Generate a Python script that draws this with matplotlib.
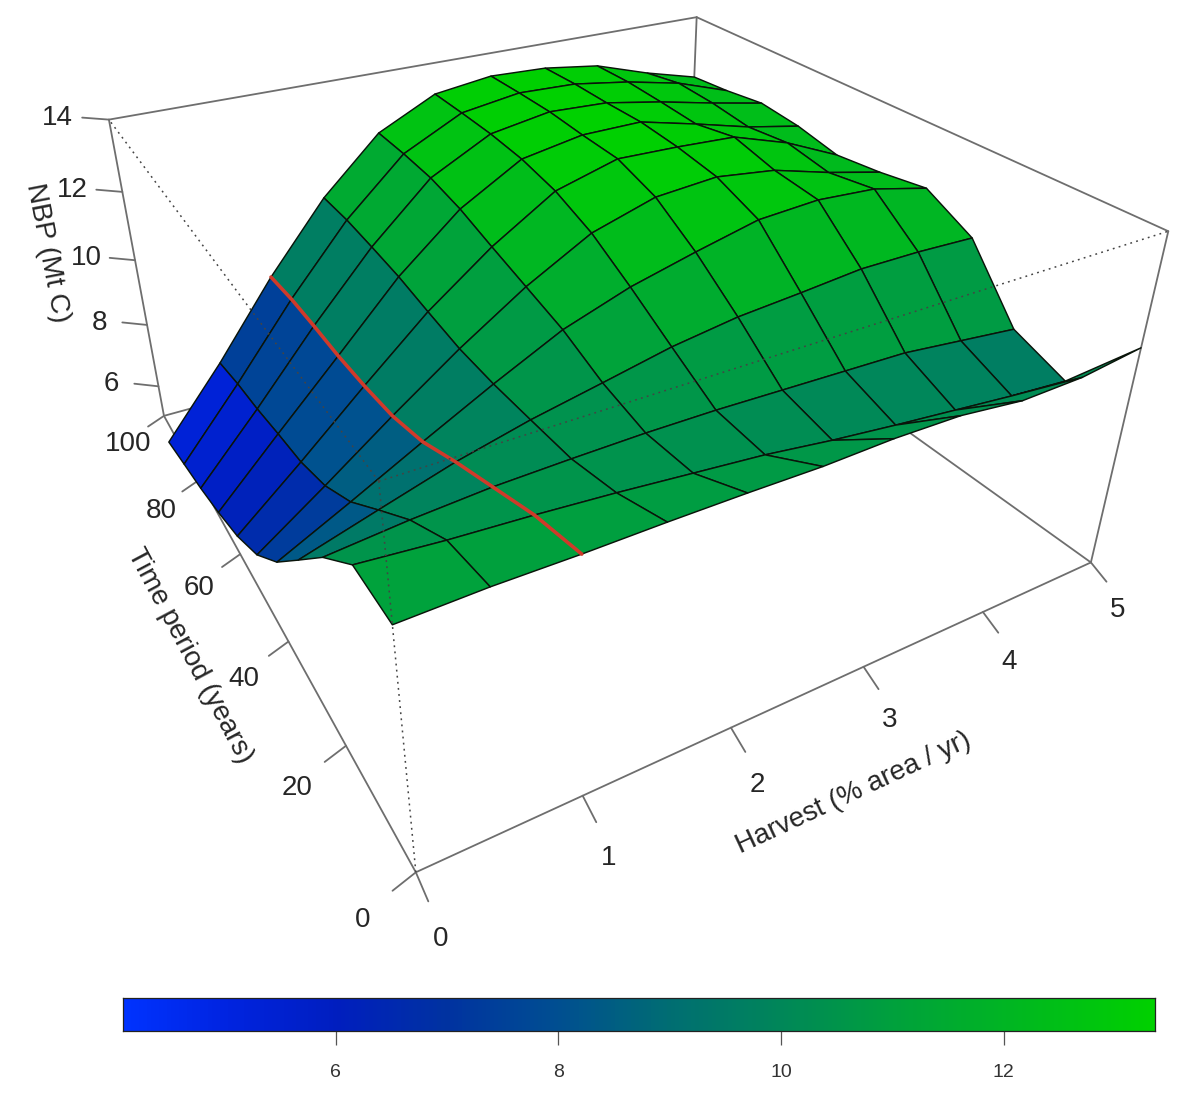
import numpy as np
import matplotlib
matplotlib.use("Agg")
import matplotlib.pyplot as plt
from matplotlib.collections import PolyCollection
from matplotlib.colors import LinearSegmentedColormap, Normalize

plt.rcParams["font.family"] = ["Liberation Sans", "DejaVu Sans"]

harvest = [0, 0.5, 1, 1.5, 2, 2.5, 3, 3.5, 4, 4.5, 5]
time_period = [0, 10, 20, 30, 40, 50, 60, 70, 80, 90, 100]
# one row per harvest level, one value per time period
nbp = [
    [11.09, 11.07, 9.97, 8.63, 7.30, 6.24, 5.56, 5.10, 4.72, 4.41, 4.09],
    [11.13, 10.90, 10.16, 9.22, 8.26, 7.56, 7.14, 6.92, 6.67, 6.49, 6.23],
    [11.11, 10.78, 10.29, 9.80, 9.25, 8.92, 8.78, 8.71, 8.71, 8.68, 8.56],
    [11.12, 10.63, 10.34, 10.27, 10.21, 10.22, 10.36, 10.52, 10.60, 10.66, 10.63],
    [11.11, 10.45, 10.37, 10.65, 11.11, 11.40, 11.69, 12.00, 12.19, 12.24, 12.24],
    [11.08, 10.27, 10.36, 11.04, 11.74, 12.38, 12.79, 13.00, 13.08, 13.09, 13.08],
    [11.12, 10.02, 10.31, 11.31, 12.20, 12.92, 13.28, 13.31, 13.37, 13.35, 13.31],
    [11.08, 9.81, 10.26, 11.46, 12.62, 13.07, 13.24, 13.33, 13.30, 13.30, 13.25],
    [10.87, 9.62, 10.21, 11.63, 12.74, 12.87, 13.16, 12.93, 13.00, 13.05, 13.02],
    [10.90, 9.43, 10.02, 11.64, 12.64, 12.43, 12.64, 12.50, 12.64, 12.70, 12.49],
    [11.12, 9.28, 9.83, 11.59, 12.27, 12.06, 11.92, 12.18, 12.31, 12.15, 12.05],
]
harvest_ticks = [0, 1, 2, 3, 4, 5]
time_ticks = [0, 20, 40, 60, 80, 100]
nbp_ticks = [6, 8, 10, 12, 14]
colorbar_ticks = [6, 8, 10, 12]
highlight_harvest = 1

X_RANGE = (0, 5)
Y_RANGE = (0, 100)
Z_RANGE = (5, 14)
COLOR_RANGE = (4.09, 13.36)

# perspective matrix of the view, on box coordinates scaled to 0-1
PMAT = np.array([
    [1016.57505, -164.27908, -103.59156, 415.83834],
    [-133.78696, -234.28792, -475.50053, 872.28978],
    [0.31306, 0.5342, -0.17565, 1.0],
])

cmap = LinearSegmentedColormap.from_list("nbp", [
    (0.00, (0.00, 0.20, 1.00)),
    (0.10, (0.00, 0.14, 0.88)),
    (0.206, (0.00, 0.12, 0.75)),
    (0.314, (0.00, 0.20, 0.63)),
    (0.422, (0.00, 0.31, 0.57)),
    (0.53, (0.00, 0.43, 0.45)),
    (0.638, (0.00, 0.53, 0.35)),
    (0.746, (0.00, 0.63, 0.24)),
    (0.854, (0.00, 0.71, 0.14)),
    (1.00, (0.00, 0.82, 0.00)),
])
norm = Normalize(*COLOR_RANGE)


def project(x, y, z):
    # box fractions to pixel position on the canvas
    x, y, z = np.asarray(x, float), np.asarray(y, float), np.asarray(z, float)
    a, b, w = [PMAT[r, 0] * x + PMAT[r, 1] * y + PMAT[r, 2] * z + PMAT[r, 3] for r in range(3)]
    return a / w, b / w


def scaled(x, y, z):
    return (
        (np.asarray(x, float) - X_RANGE[0]) / (X_RANGE[1] - X_RANGE[0]),
        (np.asarray(y, float) - Y_RANGE[0]) / (Y_RANGE[1] - Y_RANGE[0]),
        (np.asarray(z, float) - Z_RANGE[0]) / (Z_RANGE[1] - Z_RANGE[0]),
    )


def seg(ax, p0, p1, **kw):
    u0, v0 = project(*p0)
    u1, v1 = project(*p1)
    ax.plot([u0, u1], [v0, v1], solid_capstyle="round", **kw)


fig = plt.figure(figsize=(12, 10.98), dpi=100)
ax = fig.add_axes([0, 0, 1, 1])
ax.set_xlim(0, 1200)
ax.set_ylim(1098, 0)
ax.axis("off")

box = {"color": "#6e6e6e", "lw": 1.3, "zorder": 1}
tick = {"color": "#6e6e6e", "lw": 1.3, "zorder": 1}
dotted = {"color": "#444444", "lw": 1.1, "ls": (0, (1.2, 2.8)), "zorder": 5}

# back and bottom of the box go under the surface
for p0, p1 in [
    ((0, 0, 0), (1, 0, 0)), ((0, 0, 0), (0, 1, 0)), ((1, 0, 0), (1, 1, 0)), ((0, 1, 0), (1, 1, 0)),
    ((1, 0, 0), (1, 0, 1)), ((0, 1, 0), (0, 1, 1)), ((1, 1, 0), (1, 1, 1)),
    ((0, 1, 1), (1, 1, 1)), ((1, 0, 1), (1, 1, 1)),
]:
    seg(ax, p0, p1, **box)

# surface facets, far corner first so near ones paint over
z = np.array(nbp)
gx, gy = np.meshgrid(harvest, time_period, indexing="ij")
u, v = project(*scaled(gx, gy, z))
polys, colors = [], []
for i in range(len(harvest) - 2, -1, -1):
    for j in range(len(time_period) - 2, -1, -1):
        polys.append([(u[i, j], v[i, j]), (u[i + 1, j], v[i + 1, j]),
                      (u[i + 1, j + 1], v[i + 1, j + 1]), (u[i, j + 1], v[i, j + 1])])
        colors.append(cmap(norm(z[i:i + 2, j:j + 2].mean())))
ax.add_collection(PolyCollection(polys, facecolors=colors, edgecolors="#0a140a", linewidths=1.05, zorder=3))

# red line along one harvest level
k = harvest.index(highlight_harvest)
ax.plot(u[k], v[k], color="#d03a2a", lw=2.6, zorder=4, solid_capstyle="round")

# front edges of the box, dotted over the surface
for p0, p1 in [((0, 0, 0), (0, 0, 1)), ((0, 0, 1), (1, 0, 1)), ((0, 0, 1), (0, 1, 1))]:
    seg(ax, p0, p1, **dotted)

txt = {"fontsize": 20, "color": "#262626", "ha": "center", "va": "center", "zorder": 6}

for t in harvest_ticks:
    fx = scaled(t, 0, 5)[0]
    seg(ax, (fx, 0, 0), (fx, -0.03, -0.024), **tick)
    ax.text(*project(fx, -0.056, -0.083), str(t), **txt)
for t in time_ticks:
    fy = scaled(0, t, 5)[1]
    seg(ax, (0, fy, 0), (-0.027, fy, -0.023), **tick)
    ax.text(*project(-0.062, fy, -0.068), str(t), **txt)
for t in nbp_ticks:
    fz = scaled(0, 0, t)[2]
    seg(ax, (0, 1, fz), (-0.031, 1.027, fz), **tick)
    ax.text(*project(-0.062, 1.044, fz), str(t), **txt)

ax.text(*project(0.502, -0.108, -0.125), "Harvest (% area / yr)", rotation=25, rotation_mode="anchor", **txt)
ax.text(*project(-0.105, 0.5, -0.111), "Time period (years)", rotation=-62, rotation_mode="anchor", **txt)
ax.text(*project(-0.103, 1.151, 0.5), "NBP (Mt C)", rotation=-79, rotation_mode="anchor", **txt)

# colour bar
cax = fig.add_axes([123 / 1200, 1 - 1031 / 1098, (1155 - 123) / 1200, (1031 - 998) / 1098])
gradient = np.linspace(*COLOR_RANGE, 256).reshape(1, -1)
cax.imshow(gradient, cmap=cmap, norm=norm, aspect="auto", extent=(*COLOR_RANGE, 0, 1))
cax.set_yticks([])
cax.set_xticks(colorbar_ticks)
cax.tick_params(axis="x", length=10, width=0.9, color="#555555", labelsize=14, labelcolor="#333333", pad=14)
for s in cax.spines.values():
    s.set_linewidth(0.9)
    s.set_color("#222222")

fig.savefig("out.png", dpi=100)
